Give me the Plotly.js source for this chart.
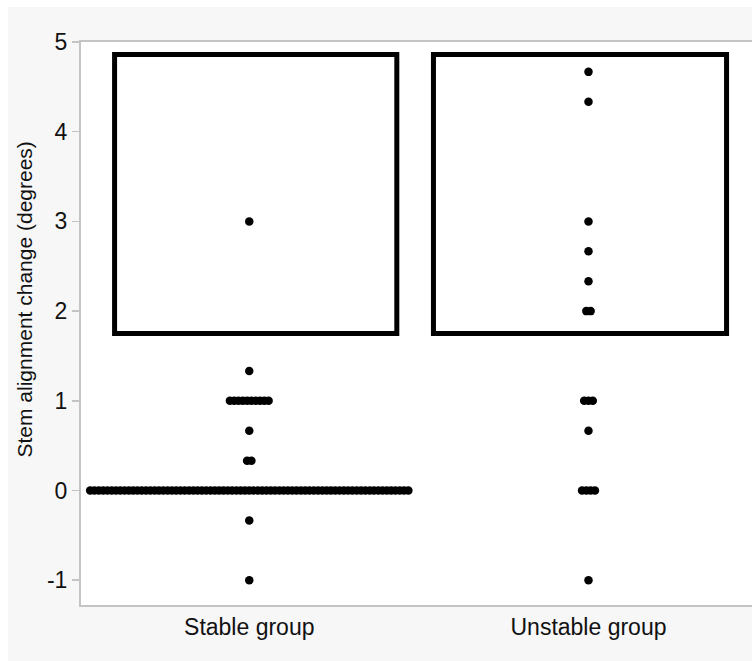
<!DOCTYPE html>
<html>
<head>
<meta charset="utf-8">
<script src="https://cdn.plot.ly/plotly-3.0.1.min.js"></script>
<style>
  html, body { margin: 0; padding: 0; background: #ffffff; width: 752px; height: 661px; overflow: hidden; }
  #chart { position: absolute; left: 8px; top: 7px; width: 744px; height: 654px; }
</style>
</head>
<body>
<div id="chart"></div>
<script>
// ---- data ----
const groupNames = ["Stable group", "Unstable group"];
const stableLevels = [3, 1.333, 1, 0.667, 0.333, 0, -0.333, -1];
const stableCounts = [1, 1, 10, 1, 2, 75, 1, 1];
const unstableLevels = [4.667, 4.333, 3, 2.667, 2.333, 2, 1, 0.667, 0, -1];
const unstableCounts = [1, 1, 1, 1, 1, 2, 3, 1, 4, 1];
const yTickVals = [-1, 0, 1, 2, 3, 4, 5];
const yTickText = ["-1", "0", "1", "2", "3", "4", "5"];

// ---- layout constants ----
const W = 744, H = 654;
const M = { l: 73, r: 0, t: 35, b: 56 };
const xRange = [-0.496, 1.482];
const yRange = [-1.276, 5];
const plotW = W - M.l - M.r;
const pxPerX = plotW / (xRange[1] - xRange[0]);
const dotGapPx = 4.3;

function swarm(center, levels, counts) {
  const xs = [], ys = [];
  levels.forEach((v, k) => {
    const n = counts[k];
    for (let i = 0; i < n; i++) {
      xs.push(center + (i - (n - 1) / 2) * dotGapPx / pxPerX);
      ys.push(v);
    }
  });
  return { xs, ys };
}

const s = swarm(0, stableLevels, stableCounts);
const u = swarm(1, unstableLevels, unstableCounts);

const marker = { color: "#000000", size: 8.5, line: { width: 0 } };
const traces = [
  { x: s.xs, y: s.ys, type: "scatter", mode: "markers", marker: marker, name: groupNames[0], hoverinfo: "y" },
  { x: u.xs, y: u.ys, type: "scatter", mode: "markers", marker: marker, name: groupNames[1], hoverinfo: "y" }
];

const boxLine = { color: "#000000", width: 5 };
const layout = {
  width: W, height: H,
  margin: M,
  paper_bgcolor: "#f7f7f7",
  plot_bgcolor: "#ffffff",
  showlegend: false,
  font: { family: "Liberation Sans, Arial, sans-serif", color: "#111111" },
  xaxis: {
    range: xRange, fixedrange: true,
    tickmode: "array", tickvals: [0, 1], ticktext: groupNames,
    ticks: "", showgrid: false, zeroline: false,
    showline: true, linecolor: "#c4c4c4", linewidth: 2, mirror: true,
    tickfont: { size: 23, color: "#111111" }
  },
  yaxis: {
    range: yRange, fixedrange: true,
    tickmode: "array", tickvals: yTickVals, ticktext: yTickText,
    ticks: "outside", ticklen: 7, tickcolor: "#c4c4c4", tickwidth: 1.5,
    showgrid: false, zeroline: false,
    showline: true, linecolor: "#c4c4c4", linewidth: 2,
    tickfont: { size: 23, color: "#111111" }
  },
  annotations: [{
    text: "Stem alignment change (degrees)",
    xref: "paper", yref: "paper",
    x: -0.0835, y: 0.5426, xanchor: "center", yanchor: "middle",
    textangle: -90, showarrow: false,
    font: { size: 21, color: "#111111" }
  }],
  shapes: [
    { type: "rect", xref: "x", yref: "y", x0: -0.397, x1: 0.435, y0: 1.75, y1: 4.861, line: boxLine, fillcolor: "rgba(0,0,0,0)" },
    { type: "rect", xref: "x", yref: "y", x0: 0.543, x1: 1.407, y0: 1.75, y1: 4.861, line: boxLine, fillcolor: "rgba(0,0,0,0)" }
  ]
};

Plotly.newPlot("chart", traces, layout, { displayModeBar: false, staticPlot: true });
</script>
</body>
</html>
